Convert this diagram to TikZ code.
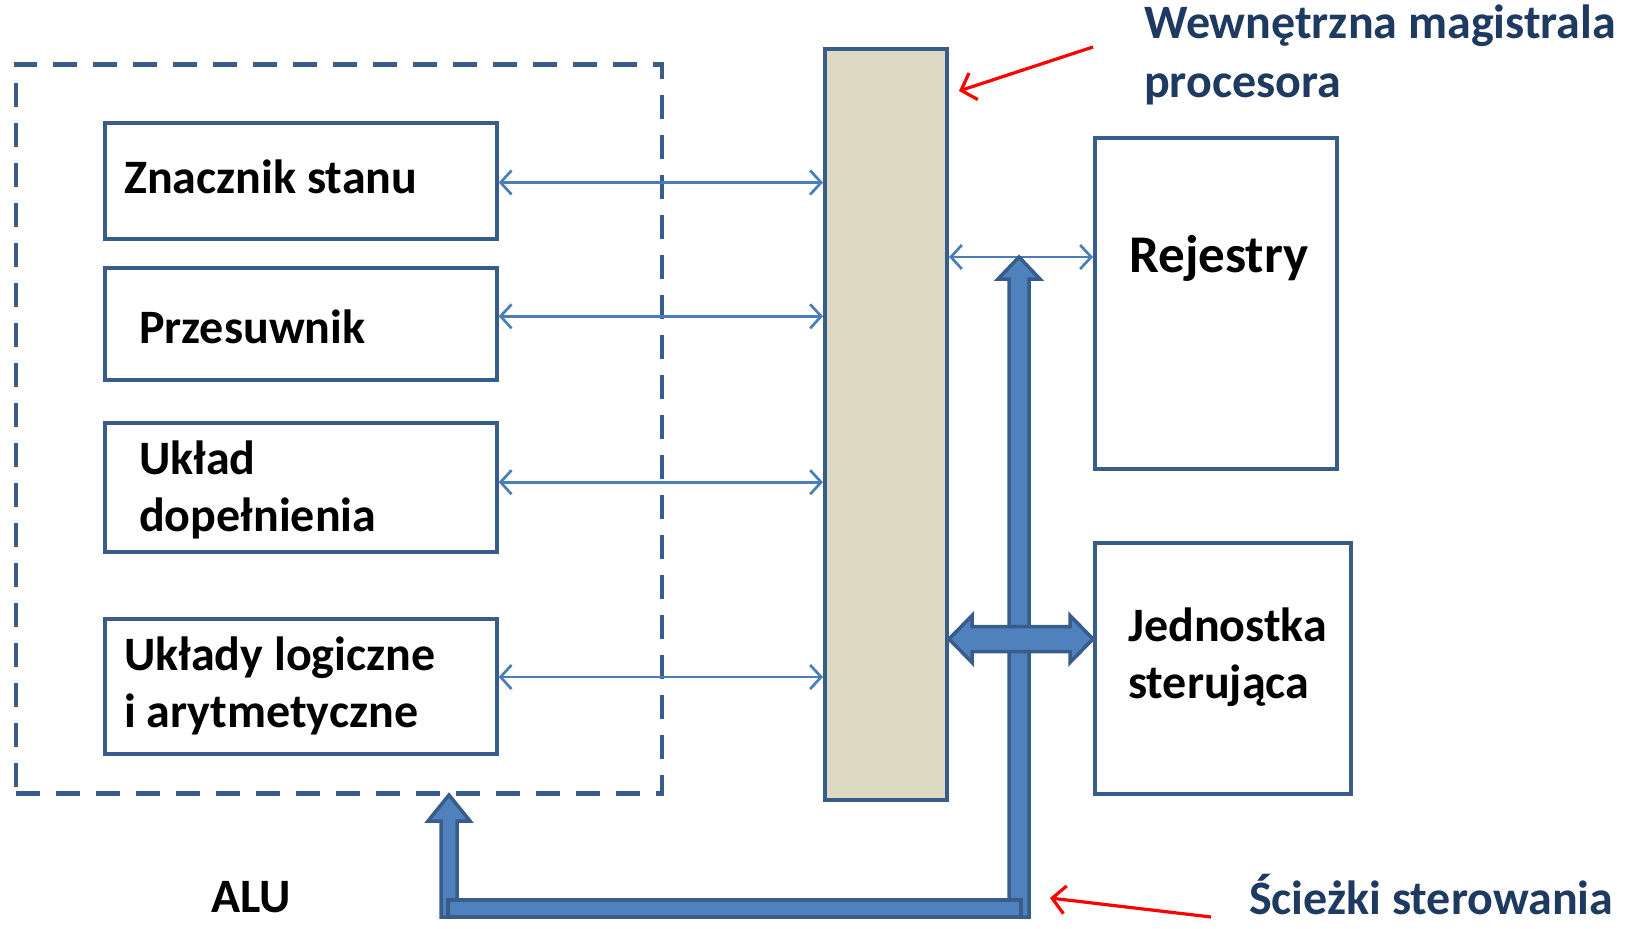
\documentclass[tikz,border=0pt]{standalone}
\usepackage{fontspec}
\setmainfont{Carlito}
\usetikzlibrary{arrows.meta,calc}
\definecolor{outl}{HTML}{385D8A}
\definecolor{fillb}{HTML}{4F81BD}
\definecolor{thinc}{HTML}{4A7EBB}
\definecolor{busc}{HTML}{DDD9C3}
\definecolor{navy}{HTML}{1F3A60}
\tikzset{
  box/.style={draw=outl, line width=4, rectangle, inner sep=0, anchor=north west},
  lbl/.style={font=\fontsize{48}{57}\selectfont\bfseries, anchor=west, align=left, inner sep=0},
  note/.style={font=\fontsize{48}{59}\selectfont\bfseries, text=navy, anchor=west, align=left, inner sep=0},
  noteone/.style={font=\fontsize{48}{59}\selectfont\bfseries, text=navy, anchor=base west, inner sep=0},
  thinarrow/.style={draw=thinc, line width=2.7, {Straight Barb[length=11,width=24]}-{Straight Barb[length=11,width=24]}},
  thick arrow/.style={draw=outl, fill=fillb, line width=3.5, line join=miter},
  redarrow/.style={draw=red, line width=3.2, -{Straight Barb[length=13,width=28]}},
}
\begin{document}
\begin{tikzpicture}[x=1pt,y=-1pt]
\useasboundingbox (0,0) rectangle (1626,929);
% ALU dashed frame
\node[box, line width=4.5, dash pattern=on 24 off 16, minimum width=646, minimum height=729] (alu) at (13.5,62) {};
% boxes
\node[box, minimum width=392, minimum height=116] (b1) at (102.7,121.3) {};
\node[box, minimum width=392, minimum height=112] (b2) at (102.7,265.5) {};
\node[box, minimum width=392, minimum height=128.6] (b3) at (102.7,421) {};
\node[box, minimum width=392, minimum height=135] (b4) at (102.7,617) {};
\node[box, fill=busc, minimum width=122, minimum height=751] (bus) at (823,46.7) {};
\node[box, minimum width=241.6, minimum height=331] (rej) at (1093,135.8) {};
\node[box, minimum width=256, minimum height=251] (jed) at (1093,541) {};
% labels
\node[lbl] (t1) at (124,177) {Znacznik stanu};
\node[lbl] (t2) at (139,326.5) {Przesuwnik};
\node[lbl] (t3) at (139,489.5) {Układ\\dopełnienia};
\node[lbl] (t4) at (124,685.5) {Układy logiczne\\i arytmetyczne};
\node[lbl, font=\fontsize{53}{62}\selectfont\bfseries, anchor=center] (t5) at (1219,258) {Rejestry};
\node[lbl] (t6) at (1128,657) {Jednostka\\sterująca};
\node[lbl, anchor=center] (alul) at (251,897) {ALU};
\node[note] (wm) at (1144,55) {Wewnętrzna magistrala\\procesora};
\node[noteone] (sc) at (1249,914) {Ścieżki sterowania};
% thin arrows
\draw[thinarrow] (b1.east |- 0,182.5) -- (bus.west |- 0,182.5);
\draw[thinarrow] (b2.east |- 0,316.3) -- (bus.west |- 0,316.3);
\draw[thinarrow] (b3.east |- 0,482.2) -- (bus.west |- 0,482.2);
\draw[thinarrow] (b4.east |- 0,677) -- (bus.west |- 0,677);
\draw[thinarrow] (bus.east |- 0,257) -- (rej.west |- 0,257);
% control paths
\coordinate (vT) at (1019,257);
\coordinate (vB) at (1019,917);
\coordinate (lT) at (449,795);
\coordinate (lB) at (449,917);
\filldraw[thick arrow] (vT) -- ++(21,22) -- ++(-11,0) -- ($(vB)+(10,0)$) -- ($(vB)+(-10,0)$) -- ($(vT)+(-10,22)$) -- ++(-11,0) -- cycle;
\filldraw[thick arrow] (lT) -- ++(21,26) -- ++(-13,0) -- ($(lB)+(8,0)$) -- ($(lB)+(-8,0)$) -- ($(lT)+(-8,26)$) -- ++(-13,0) -- cycle;
\filldraw[thick arrow] ($(lB)+(-1,-17)$) rectangle ($(vB)+(2,0)$);
\coordinate (hL) at (bus.east |- 0,639);
\coordinate (hR) at (jed.west |- 0,639);
\filldraw[thick arrow] (hL) -- ++(23,-23.5) -- ++(0,11) -- ($(hR)+(-23,-12.5)$) -- ++(0,-11) -- (hR) -- ++(-23,23.5) -- ++(0,-11) -- ($(hL)+(23,12.5)$) -- ++(0,11) -- cycle;
% red pointers
\coordinate (r1s) at (1093,47);
\coordinate (r1e) at (959,91);
\coordinate (r2s) at (1211,917);
\coordinate (r2e) at (1050,898);
\draw[redarrow] (r1s) -- (r1e);
\draw[redarrow] (r2s) -- (r2e);
\end{tikzpicture}
\end{document}
